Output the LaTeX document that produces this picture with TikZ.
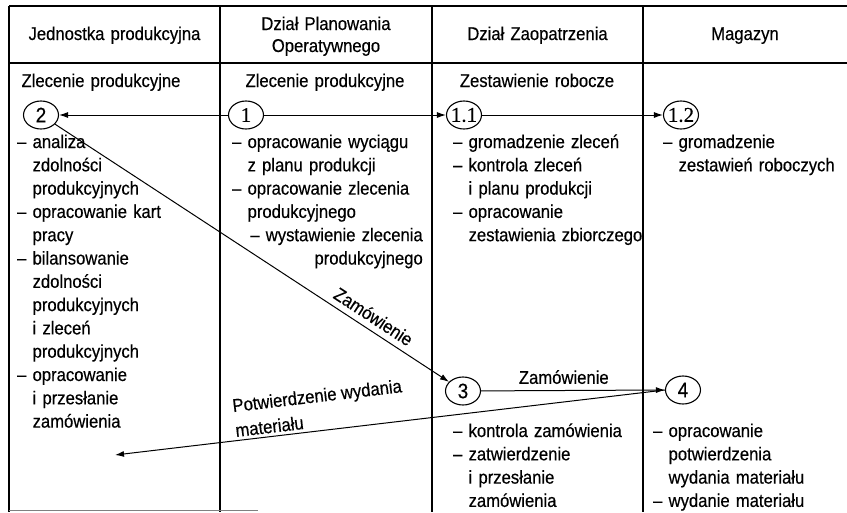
\documentclass[tikz,border=0pt]{standalone}
\usepackage{fontspec}
\setmainfont[FakeStretch=0.9, FakeBold=0.4]{Liberation Sans}
\newfontfamily\numserif[FakeBold=0.4]{Liberation Serif}
\usetikzlibrary{shapes.geometric, arrows.meta}

% hanging indent for continuation lines of a list item
\newcommand\ind{\hphantom{–\ }}
% fixed-size label inside a step circle
\newcommand\stepno[1]{\makebox[0pt]{#1}}

\tikzset{
  grid/.style={line width=1.4pt, black},
  txt/.style={font=\fontsize{18.5}{23.3}\selectfont, inner sep=0pt,
              text width=200pt, align=left, anchor=base west},
  hdr/.style={font=\fontsize{18.5}{22}\selectfont, inner sep=0pt,
              text width=200pt, align=center, anchor=base},
  lbl/.style={font=\fontsize{18.5}{25}\selectfont, inner sep=1pt},
  stepbox/.style={ellipse, draw, line width=1.1pt, minimum width=35pt,
                  minimum height=28pt, inner sep=0pt},
  sansno/.style={font=\fontsize{21}{21}\selectfont},
  serifno/.style={font=\numserif\fontsize{21}{21}\selectfont},
  flow/.style={line width=1pt, -{Latex[length=9pt, width=6pt]}},
  revflow/.style={line width=1pt, {Latex[length=9pt, width=6pt]}-},
}

\begin{document}
\begin{tikzpicture}[x=1pt, y=-1pt]
  \fill[white] (0,0) rectangle (847,512);
  \useasboundingbox (0,0) rectangle (847,512);

  % table frame
  \draw[grid] (9,6) -- (847,6);
  \draw[grid] (9,63) -- (847,63);
  \draw[grid] (9,6) -- (9,512);
  \draw[grid] (220,6) -- (220,512);
  \draw[grid] (432,6) -- (432,512);
  \draw[grid] (643,6) -- (643,512);
  \draw[gray, line width=1pt] (9,510.5) -- (258,510.5);

  % column headers
  \node[hdr] (hJP) at (114.5,40) {Jednostka produkcyjna};
  \node[hdr] (hDPO) at (326,30) {Dział Planowania\\Operatywnego};
  \node[hdr] (hDZ) at (537.5,40) {Dział Zaopatrzenia};
  \node[hdr] (hMG) at (745,40) {Magazyn};

  % document names
  \node[hdr] (dZP1) at (101,87) {Zlecenie produkcyjne};
  \node[hdr] (dZP2) at (325,87) {Zlecenie produkcyjne};
  \node[hdr] (dZR) at (537,87) {Zestawienie robocze};

  % steps
  \node[stepbox, sansno]  (n2)  at (41,115)  {\stepno{2}};
  \node[stepbox, serifno] (n1)  at (246,115) {\stepno{1}};
  \node[stepbox, serifno] (n11) at (464,115) {\stepno{1.1}};
  \node[stepbox, serifno] (n12) at (681,115) {\stepno{1.2}};
  \node[stepbox, sansno]  (n3)  at (463,391) {\stepno{3}};
  \node[stepbox, sansno]  (n4)  at (683,390) {\stepno{4}};
  \coordinate (pEnd) at (115,455);

  % activities
  \node[txt] (aJP) at (17,148) {– analiza\\
    \ind zdolności\\
    \ind produkcyjnych\\
    – opracowanie kart\\
    \ind pracy\\
    – bilansowanie\\
    \ind zdolności\\
    \ind produkcyjnych\\
    \ind i zleceń\\
    \ind produkcyjnych\\
    – opracowanie\\
    \ind i przesłanie\\
    \ind zamówienia};

  \node[txt] (aDPO) at (232,148) {– opracowanie wyciągu\\
    \ind z planu produkcji\\
    – opracowanie zlecenia\\
    \ind produkcyjnego};
  \node[txt, align=right, anchor=base east] (aDPOb) at (423,241.2)
    {– wystawienie zlecenia\\produkcyjnego};

  \node[txt] (aDZ) at (453,148) {– gromadzenie zleceń\\
    – kontrola zleceń\\
    \ind i planu produkcji\\
    – opracowanie\\
    \ind zestawienia zbiorczego};

  \node[txt] (aMG) at (663,148) {– gromadzenie\\
    \ind zestawień roboczych};

  \node[txt] (aDZb) at (453,437) {– kontrola zamówienia\\
    – zatwierdzenie\\
    \ind i przesłanie\\
    \ind zamówienia};

  \node[txt] (aMGb) at (653,437) {– opracowanie\\
    \ind potwierdzenia\\
    \ind wydania materiału\\
    – wydanie materiału};

  % flows
  \draw[flow] (n1) -- (n2);
  \draw[flow] (n1) -- (n11);
  \draw[flow] (n11) -- (n12);
  \draw[flow] (n2) -- node[lbl, pos=0.79, sloped, above=5pt] (lZam1) {Zamówienie} (n3);
  \draw[flow] (n3) -- node[lbl, pos=0.45, above=5pt] (lZam2) {Zamówienie} (n4.west);
  \draw[revflow] (pEnd) -- node[lbl, pos=0.375, sloped, above=2pt, align=left] (lPot)
    {Potwierdzenie wydania\\materiału} (n4.west);
\end{tikzpicture}
\end{document}
